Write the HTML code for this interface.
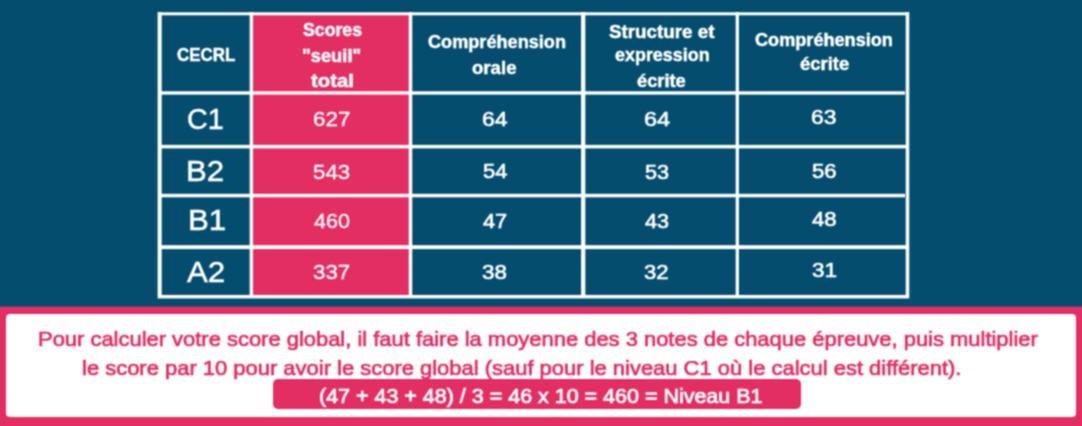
<!DOCTYPE html>
<html><head><meta charset="utf-8"><style>
html{margin:0;padding:0;width:1082px;height:426px;overflow:hidden;background:#044d6e}
body{margin:0;padding:0}
body{width:1082px;height:426px;overflow:hidden;background:#044d6e;position:relative;font-family:"Liberation Sans",sans-serif}
#w{position:absolute;left:0;top:0;width:1082px;height:426px;overflow:hidden;background:#044d6e;filter:url(#f)}
#c{position:absolute;left:0;top:0;width:1082px;height:426px;overflow:hidden}
#c div{position:absolute}
#c .t{white-space:nowrap;transform-origin:0 0}
</style></head><body><svg width="0" height="0" style="position:absolute"><filter id="f" x="0" y="0" width="100%" height="100%" color-interpolation-filters="sRGB"><feConvolveMatrix order="3" kernelMatrix="1 2 1 2 4 2 1 2 1" divisor="16" edgeMode="duplicate"/></filter></svg><div id="w"><div id="c">
<div style="left:251px;top:13px;width:159px;height:285px;background:#e22e62;"></div>
<div style="left:157px;top:12px;width:1px;height:286px;background:rgba(255,255,255,0.37);"></div>
<div style="left:158px;top:12px;width:3px;height:286px;background:rgba(255,255,255,1.00);"></div>
<div style="left:161px;top:12px;width:1px;height:286px;background:rgba(255,255,255,0.69);"></div>
<div style="left:249px;top:12px;width:1px;height:286px;background:rgba(255,255,255,0.35);"></div>
<div style="left:250px;top:12px;width:3px;height:286px;background:rgba(255,255,255,1.00);"></div>
<div style="left:253px;top:12px;width:1px;height:286px;background:rgba(255,255,255,0.05);"></div>
<div style="left:408px;top:12px;width:1px;height:286px;background:rgba(255,255,255,0.25);"></div>
<div style="left:409px;top:12px;width:3px;height:286px;background:rgba(255,255,255,1.00);"></div>
<div style="left:412px;top:12px;width:1px;height:286px;background:rgba(255,255,255,0.25);"></div>
<div style="left:581px;top:12px;width:1px;height:286px;background:rgba(255,255,255,0.93);"></div>
<div style="left:582px;top:12px;width:3px;height:286px;background:rgba(255,255,255,1.00);"></div>
<div style="left:585px;top:12px;width:1px;height:286px;background:rgba(255,255,255,0.32);"></div>
<div style="left:735px;top:12px;width:1px;height:286px;background:rgba(255,255,255,0.33);"></div>
<div style="left:736px;top:12px;width:2px;height:286px;background:rgba(255,255,255,1.00);"></div>
<div style="left:738px;top:12px;width:1px;height:286px;background:rgba(255,255,255,0.92);"></div>
<div style="left:905px;top:12px;width:1px;height:286px;background:rgba(255,255,255,0.25);"></div>
<div style="left:906px;top:12px;width:3px;height:286px;background:rgba(255,255,255,1.00);"></div>
<div style="left:909px;top:12px;width:1px;height:286px;background:rgba(255,255,255,0.25);"></div>
<div style="left:158px;top:12px;width:751px;height:1px;background:rgba(255,255,255,0.70);"></div>
<div style="left:158px;top:13px;width:751px;height:2px;background:rgba(255,255,255,1.00);"></div>
<div style="left:158px;top:15px;width:751px;height:1px;background:rgba(255,255,255,0.30);"></div>
<div style="left:158px;top:91px;width:747px;height:1px;background:rgba(255,255,255,0.72);"></div>
<div style="left:158px;top:92px;width:747px;height:2px;background:rgba(255,255,255,1.00);"></div>
<div style="left:158px;top:94px;width:747px;height:1px;background:rgba(255,255,255,0.63);"></div>
<div style="left:158px;top:144px;width:751px;height:1px;background:rgba(255,255,255,0.12);"></div>
<div style="left:158px;top:145px;width:751px;height:3px;background:rgba(255,255,255,1.00);"></div>
<div style="left:158px;top:148px;width:751px;height:1px;background:rgba(255,255,255,0.38);"></div>
<div style="left:158px;top:193px;width:747px;height:1px;background:rgba(255,255,255,0.16);"></div>
<div style="left:158px;top:194px;width:747px;height:3px;background:rgba(255,255,255,1.00);"></div>
<div style="left:158px;top:197px;width:747px;height:1px;background:rgba(255,255,255,0.29);"></div>
<div style="left:158px;top:245px;width:751px;height:1px;background:rgba(255,255,255,0.81);"></div>
<div style="left:158px;top:246px;width:751px;height:3px;background:rgba(255,255,255,1.00);"></div>
<div style="left:158px;top:249px;width:751px;height:1px;background:rgba(255,255,255,0.09);"></div>
<div style="left:158px;top:294px;width:751px;height:1px;background:rgba(255,255,255,0.08);"></div>
<div style="left:158px;top:295px;width:751px;height:3px;background:rgba(255,255,255,1.00);"></div>
<div style="left:158px;top:298px;width:751px;height:1px;background:rgba(255,255,255,0.42);"></div>
<div style="left:0px;top:306px;width:1082px;height:1px;background:rgba(226,46,98,0.4);"></div>
<div style="left:0px;top:307px;width:1082px;height:119px;background:#e22e62;"></div>
<div style="left:6px;top:314px;width:1070px;height:103px;background:#fff;border-radius:4px;"></div>
<div style="left:273px;top:379px;width:528px;height:30px;background:#e22e62;border-radius:5px;"></div>
<div class="t" style="left:177.12px;top:47px;font-size:17.5px;line-height:17.5px;font-weight:bold;color:#ffffff;-webkit-text-stroke:0.45px #ffffff;transform:scaleX(0.9664)">CECRL</div>
<div class="t" style="left:302.85px;top:22px;font-size:17.5px;line-height:17.5px;font-weight:bold;color:#ffffff;-webkit-text-stroke:0.45px #ffffff;transform:scaleX(1.0104)">Scores</div>
<div class="t" style="left:302.35px;top:48px;font-size:17.5px;line-height:17.5px;font-weight:bold;color:#ffffff;-webkit-text-stroke:0.45px #ffffff;transform:scaleX(1.0477)">&quot;seuil&quot;</div>
<div class="t" style="left:311.3px;top:73px;font-size:17.5px;line-height:17.5px;font-weight:bold;color:#ffffff;-webkit-text-stroke:0.45px #ffffff;transform:scaleX(1.1583)">total</div>
<div class="t" style="left:428.38px;top:34px;font-size:17.5px;line-height:17.5px;font-weight:bold;color:#ffffff;-webkit-text-stroke:0.45px #ffffff;transform:scaleX(1.0361)">Compréhension</div>
<div class="t" style="left:472.17px;top:60px;font-size:17.5px;line-height:17.5px;font-weight:bold;color:#ffffff;-webkit-text-stroke:0.45px #ffffff;transform:scaleX(1.0634)">orale</div>
<div class="t" style="left:609.03px;top:24px;font-size:17.5px;line-height:17.5px;font-weight:bold;color:#ffffff;-webkit-text-stroke:0.45px #ffffff;transform:scaleX(1.0735)">Structure et</div>
<div class="t" style="left:614.69px;top:47px;font-size:17.5px;line-height:17.5px;font-weight:bold;color:#ffffff;-webkit-text-stroke:0.45px #ffffff;transform:scaleX(1.0242)">expression</div>
<div class="t" style="left:637.28px;top:73px;font-size:17.5px;line-height:17.5px;font-weight:bold;color:#ffffff;-webkit-text-stroke:0.45px #ffffff;transform:scaleX(1.0448)">écrite</div>
<div class="t" style="left:755.48px;top:32px;font-size:17.5px;line-height:17.5px;font-weight:bold;color:#ffffff;-webkit-text-stroke:0.45px #ffffff;transform:scaleX(1.0353)">Compréhension</div>
<div class="t" style="left:799.57px;top:56px;font-size:17.5px;line-height:17.5px;font-weight:bold;color:#ffffff;-webkit-text-stroke:0.45px #ffffff;transform:scaleX(1.0536)">écrite</div>
<div class="t" style="left:186.57px;top:105px;font-size:29px;line-height:29px;font-weight:normal;color:#ffffff;-webkit-text-stroke:0.45px #ffffff;transform:scaleX(0.9871)">C1</div>
<div class="t" style="left:185.58px;top:157px;font-size:29px;line-height:29px;font-weight:normal;color:#ffffff;-webkit-text-stroke:0.45px #ffffff;transform:scaleX(1.075)">B2</div>
<div class="t" style="left:187.57px;top:206px;font-size:29px;line-height:29px;font-weight:normal;color:#ffffff;-webkit-text-stroke:0.45px #ffffff;transform:scaleX(1.0781)">B1</div>
<div class="t" style="left:187.27px;top:258px;font-size:29px;line-height:29px;font-weight:normal;color:#ffffff;-webkit-text-stroke:0.45px #ffffff;transform:scaleX(1.0783)">A2</div>
<div class="t" style="left:313.23px;top:108px;font-size:21px;line-height:21px;font-weight:normal;color:#ffffff;-webkit-text-stroke:0.3px #ffffff;transform:scaleX(1.0677)">627</div>
<div class="t" style="left:313.41px;top:161px;font-size:21px;line-height:21px;font-weight:normal;color:#ffffff;-webkit-text-stroke:0.3px #ffffff;transform:scaleX(1.0597)">543</div>
<div class="t" style="left:313.94px;top:210px;font-size:21px;line-height:21px;font-weight:normal;color:#ffffff;-webkit-text-stroke:0.3px #ffffff;transform:scaleX(1.0277)">460</div>
<div class="t" style="left:313.41px;top:261px;font-size:21px;line-height:21px;font-weight:normal;color:#ffffff;-webkit-text-stroke:0.3px #ffffff;transform:scaleX(1.0597)">337</div>
<div class="t" style="left:482.25px;top:109px;font-size:20.4px;line-height:20.4px;font-weight:normal;color:#ffffff;-webkit-text-stroke:0.6px #ffffff;transform:scaleX(1.1302)">64</div>
<div class="t" style="left:643.53px;top:109px;font-size:20.4px;line-height:20.4px;font-weight:normal;color:#ffffff;-webkit-text-stroke:0.6px #ffffff;transform:scaleX(1.1535)">64</div>
<div class="t" style="left:811.16px;top:107px;font-size:20.4px;line-height:20.4px;font-weight:normal;color:#ffffff;-webkit-text-stroke:0.6px #ffffff;transform:scaleX(1.12)">63</div>
<div class="t" style="left:483.06px;top:161px;font-size:20.4px;line-height:20.4px;font-weight:normal;color:#ffffff;-webkit-text-stroke:0.6px #ffffff;transform:scaleX(1.0759)">54</div>
<div class="t" style="left:644.67px;top:162px;font-size:20.4px;line-height:20.4px;font-weight:normal;color:#ffffff;-webkit-text-stroke:0.6px #ffffff;transform:scaleX(1.0605)">53</div>
<div class="t" style="left:812.36px;top:161px;font-size:20.4px;line-height:20.4px;font-weight:normal;color:#ffffff;-webkit-text-stroke:0.6px #ffffff;transform:scaleX(1.0837)">56</div>
<div class="t" style="left:482.93px;top:211px;font-size:20.4px;line-height:20.4px;font-weight:normal;color:#ffffff;-webkit-text-stroke:0.6px #ffffff;transform:scaleX(1.0667)">47</div>
<div class="t" style="left:644.74px;top:211px;font-size:20.4px;line-height:20.4px;font-weight:normal;color:#ffffff;-webkit-text-stroke:0.6px #ffffff;transform:scaleX(1.0575)">43</div>
<div class="t" style="left:812.33px;top:209px;font-size:20.4px;line-height:20.4px;font-weight:normal;color:#ffffff;-webkit-text-stroke:0.6px #ffffff;transform:scaleX(1.0851)">48</div>
<div class="t" style="left:482.45px;top:262px;font-size:20.4px;line-height:20.4px;font-weight:normal;color:#ffffff;-webkit-text-stroke:0.6px #ffffff;transform:scaleX(1.0977)">38</div>
<div class="t" style="left:644.36px;top:262px;font-size:20.4px;line-height:20.4px;font-weight:normal;color:#ffffff;-webkit-text-stroke:0.6px #ffffff;transform:scaleX(1.0837)">32</div>
<div class="t" style="left:811.65px;top:260px;font-size:20.4px;line-height:20.4px;font-weight:normal;color:#ffffff;-webkit-text-stroke:0.6px #ffffff;transform:scaleX(1.1023)">31</div>
<div class="t" style="left:37.89px;top:328px;font-size:21px;line-height:21px;font-weight:normal;color:#e22e62;-webkit-text-stroke:0.7px #e22e62;transform:scaleX(1.0445)">Pour calculer votre score global, il faut faire la moyenne des 3 notes de chaque épreuve, puis multiplier</div>
<div class="t" style="left:81.65px;top:357px;font-size:21px;line-height:21px;font-weight:normal;color:#e22e62;-webkit-text-stroke:0.7px #e22e62;transform:scaleX(1.0454)">le score par 10 pour avoir le score global (sauf pour le niveau C1 où le calcul est différent).</div>
<div class="t" style="left:319.33px;top:386px;font-size:20px;line-height:20px;font-weight:normal;color:#ffffff;-webkit-text-stroke:0.7px #ffffff;transform:scaleX(1.0736)">(47 + 43 + 48) / 3 = 46 x 10 = 460 = Niveau B1</div>
</div></div></body></html>
